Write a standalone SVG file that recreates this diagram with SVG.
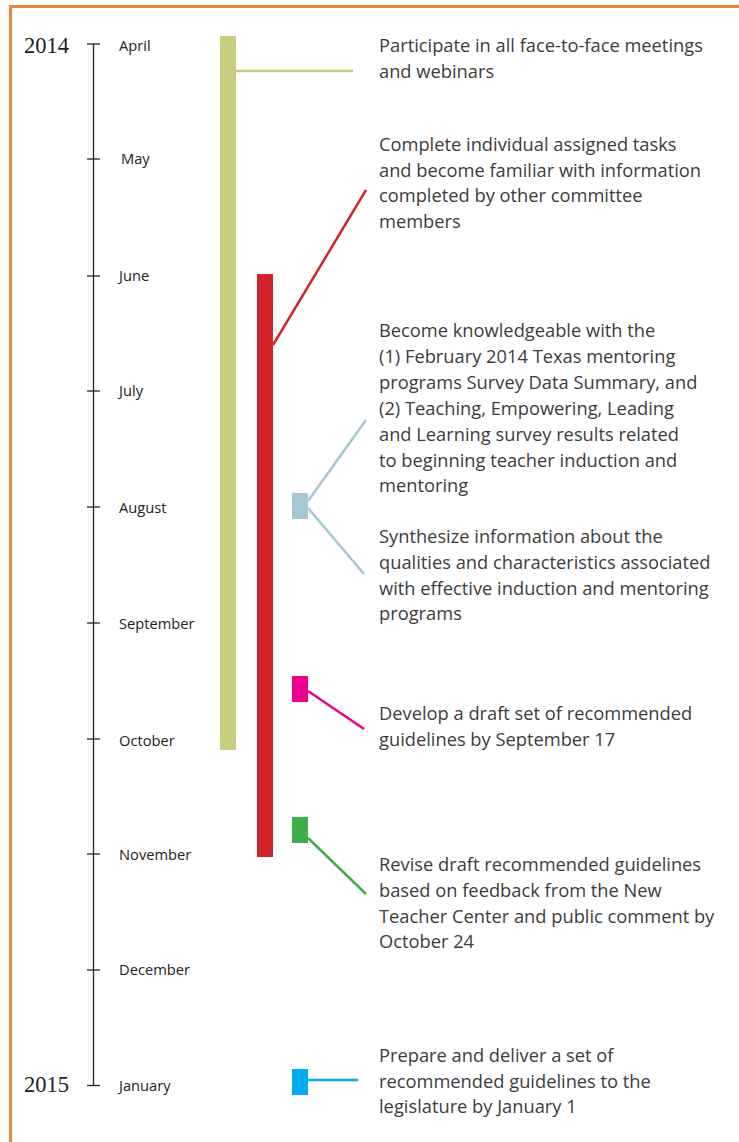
<svg xmlns="http://www.w3.org/2000/svg" width="739" height="1142" viewBox="0 0 739 1142">
<style>
.yr{font-family:"Liberation Serif",serif;font-size:22.5px;fill:#222}
.mo{font-family:"Open Sans",sans-serif;font-size:14.7px;fill:#222}
.tx{font-family:"Open Sans",sans-serif;font-size:18.3px;fill:#3c3c3c}
.ax{stroke:#222;stroke-width:1.3;fill:none}
</style>
<rect width="739" height="1142" fill="#fff"/>
<path d="M10.5 1142 V6.5 H739" fill="none" stroke="#e8843e" stroke-width="3"/>
<g id="axis">
<line class="ax" x1="93.5" y1="44" x2="93.5" y2="1086"/>
<g class="ax">
<line x1="87" y1="44" x2="100" y2="44"/>
<line x1="87" y1="159" x2="100" y2="159"/>
<line x1="87" y1="276" x2="100" y2="276"/>
<line x1="87" y1="391" x2="100" y2="391"/>
<line x1="87" y1="507" x2="100" y2="507"/>
<line x1="87" y1="623" x2="100" y2="623"/>
<line x1="87" y1="739" x2="100" y2="739"/>
<line x1="87" y1="854" x2="100" y2="854"/>
<line x1="87" y1="970" x2="100" y2="970"/>
<line x1="87" y1="1085.5" x2="100" y2="1085.5"/>
</g>
<text class="yr" x="24" y="53">2014</text>
<text class="yr" x="24" y="1092">2015</text>
<text class="mo" x="119" y="51">April</text>
<text class="mo" x="121" y="164">May</text>
<text class="mo" x="119" y="281">June</text>
<text class="mo" x="119" y="396">July</text>
<text class="mo" x="119" y="513">August</text>
<text class="mo" x="119" y="629">September</text>
<text class="mo" x="119" y="746">October</text>
<text class="mo" x="119" y="860">November</text>
<text class="mo" x="119" y="975">December</text>
<text class="mo" x="119" y="1091">January</text>
</g>
<g id="bar-olive"><rect x="220" y="36" width="16" height="714" fill="#c8cb80"/></g>
<g id="bar-red"><rect x="257" y="274" width="16" height="583" fill="#d2232a"/></g>
<g id="marker-lightblue"><rect x="292" y="493" width="16" height="26" fill="#a3c8d4"/></g>
<g id="marker-pink"><rect x="292" y="676" width="16" height="26" fill="#ec008c"/></g>
<g id="marker-green"><rect x="292" y="817" width="16" height="26" fill="#3fae49"/></g>
<g id="marker-blue"><rect x="292" y="1069" width="16" height="26" fill="#00aeef"/></g>
<g id="connectors" fill="none" stroke-width="2.5">
<line x1="236" y1="71" x2="353" y2="71" stroke="#c8cb80"/>
<line x1="273" y1="345" x2="366" y2="190" stroke="#d2232a"/>
<line x1="308" y1="501" x2="366" y2="420" stroke="#a3c8d4"/>
<line x1="308" y1="508" x2="364" y2="574" stroke="#a3c8d4"/>
<line x1="308" y1="691" x2="364" y2="729" stroke="#ec008c"/>
<line x1="308" y1="838" x2="366" y2="894" stroke="#3fae49"/>
<line x1="308" y1="1080" x2="358" y2="1080" stroke="#00aeef"/>
</g>
<g id="note1"><text class="tx"><tspan x="379" y="52">Participate in all face-to-face meetings</tspan><tspan x="379" y="78">and webinars</tspan></text></g>
<g id="note2"><text class="tx"><tspan x="379" y="151">Complete individual assigned tasks</tspan><tspan x="379" y="177">and become familiar with information</tspan><tspan x="379" y="202">completed by other committee</tspan><tspan x="379" y="228">members</tspan></text></g>
<g id="note3"><text class="tx"><tspan x="379" y="337">Become knowledgeable with the</tspan><tspan x="379" y="363">(1) February 2014 Texas mentoring</tspan><tspan x="379" y="389">programs Survey Data Summary, and</tspan><tspan x="379" y="415">(2) Teaching, Empowering, Leading</tspan><tspan x="379" y="441">and Learning survey results related</tspan><tspan x="379" y="467">to beginning teacher induction and</tspan><tspan x="379" y="492">mentoring</tspan></text></g>
<g id="note4"><text class="tx"><tspan x="379" y="543">Synthesize information about the</tspan><tspan x="379" y="569">qualities and characteristics associated</tspan><tspan x="379" y="595">with effective induction and mentoring</tspan><tspan x="379" y="620">programs</tspan></text></g>
<g id="note5"><text class="tx"><tspan x="379" y="720">Develop a draft set of recommended</tspan><tspan x="379" y="746">guidelines by September 17</tspan></text></g>
<g id="note6"><text class="tx"><tspan x="379" y="871">Revise draft recommended guidelines</tspan><tspan x="379" y="897">based on feedback from the New</tspan><tspan x="379" y="923">Teacher Center and public comment by</tspan><tspan x="379" y="948">October 24</tspan></text></g>
<g id="note7"><text class="tx"><tspan x="379" y="1062">Prepare and deliver a set of</tspan><tspan x="379" y="1088">recommended guidelines to the</tspan><tspan x="379" y="1113">legislature by January 1</tspan></text></g>
</svg>
